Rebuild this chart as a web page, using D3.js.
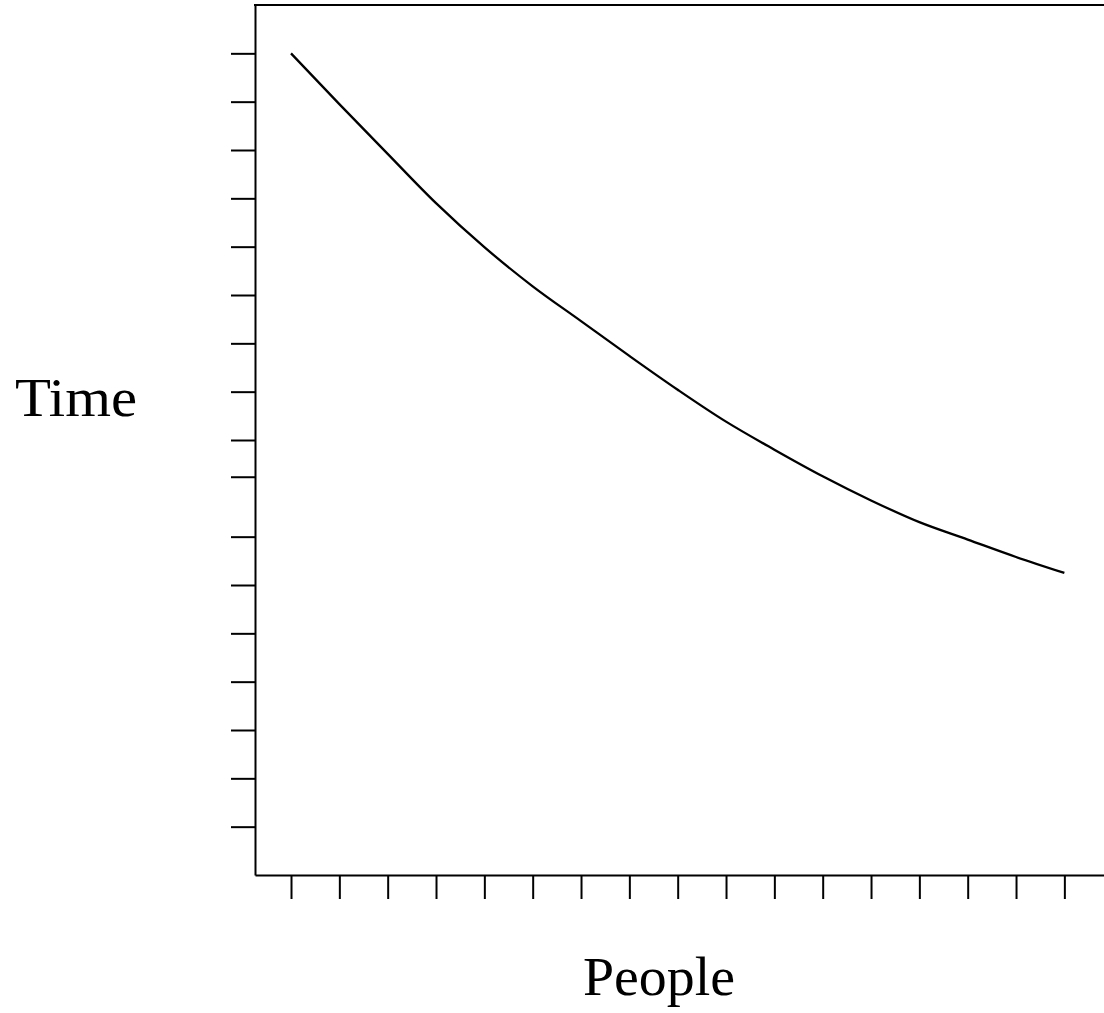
<!DOCTYPE html>
<html>
<head>
<meta charset="utf-8">
<script src="https://cdn.jsdelivr.net/npm/d3@7"></script>
<style>
  body { margin: 0; background: #fff; }
  svg { display: block; }
  .lbl { font-family: "Liberation Serif", "DejaVu Serif", serif; font-size: 55px; fill: #000; }
</style>
</head>
<body>
<svg id="chart" width="1104" height="1013"></svg>
<script>
// values (no labels on the axes)
var people = [0, 1, 2, 3, 4, 5, 6, 7, 8, 9, 10, 11, 12, 13, 14, 15, 16];
var time = [16.0, 14.95, 13.92, 12.9, 11.99, 11.18, 10.46, 9.74, 9.04, 8.38, 7.8, 7.25, 6.75, 6.3, 5.94, 5.58, 5.25];
var xTicks = [0, 1, 2, 3, 4, 5, 6, 7, 8, 9, 10, 11, 12, 13, 14, 15, 16];
var yTicks = [0, 1, 2, 3, 4, 5, 6, 7.24, 8, 9, 10, 11, 12, 13, 14, 15, 16];

var svg = d3.select("#chart");

var x = d3.scaleLinear().domain([-0.745, 16.82]).range([255, 1104]);
var y = d3.scaleLinear().domain([-1, 17]).range([875, 5]);

var xAxis = d3.axisBottom(x).tickValues(xTicks).tickSize(24).tickSizeOuter(0).tickFormat("");
var yAxis = d3.axisLeft(y).tickValues(yTicks).tickSize(24).tickSizeOuter(0).tickFormat("");

var gx = svg.append("g").attr("transform", "translate(0,875)").call(xAxis);
var gy = svg.append("g").attr("transform", "translate(255,0)").call(yAxis);

[gx, gy].forEach(function (g) {
    g.selectAll("path.domain").attr("stroke", "#000").attr("stroke-width", 2);
    g.selectAll(".tick line").attr("stroke", "#000").attr("stroke-width", 2);
});

// top border
svg.append("line")
    .attr("x1", x.range()[0] - 1).attr("x2", x.range()[1])
    .attr("y1", y.range()[1]).attr("y2", y.range()[1])
    .attr("stroke", "#000").attr("stroke-width", 2);

var line = d3.line()
    .x(function (d, i) { return x(people[i]); })
    .y(function (d) { return y(d); })
    .curve(d3.curveCatmullRom);

svg.append("path")
    .datum(time)
    .attr("d", line)
    .attr("fill", "none")
    .attr("stroke", "#000")
    .attr("stroke-width", 2.3);

svg.append("text").attr("class", "lbl")
    .attr("x", 76).attr("y", 416)
    .attr("text-anchor", "middle")
    .attr("textLength", 122).attr("lengthAdjust", "spacingAndGlyphs")
    .text("Time");

svg.append("text").attr("class", "lbl")
    .attr("x", 659).attr("y", 995)
    .attr("text-anchor", "middle")
    .attr("textLength", 152).attr("lengthAdjust", "spacingAndGlyphs")
    .text("People");
</script>
</body>
</html>
